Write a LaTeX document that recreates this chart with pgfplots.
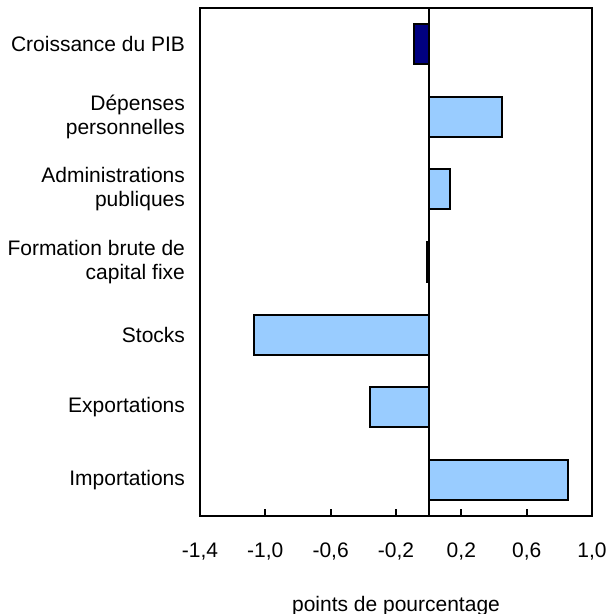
\documentclass[border=0pt]{standalone}
\usepackage{pgfplots}
\pgfplotsset{compat=1.18}
\usepackage{fontspec}
\setmainfont{Liberation Sans}
\definecolor{navybar}{RGB}{0,0,128}
\definecolor{lightbar}{RGB}{153,204,255}
\begin{document}
\begin{tikzpicture}
\begin{axis}[
  scale only axis,
  width=196pt, height=254pt,
  xmin=-1.4, xmax=1.0,
  ymin=-0.5, ymax=6.5,
  y dir=reverse,
  xbar, bar width=20pt, bar shift=0pt,
  axis line style={line width=1pt},
  xtick={-1.4,-1.0,-0.6,-0.2,0.2,0.6,1.0},
  xtick pos=bottom, tick align=inside,
  major tick length=3.5pt,
  xtick style={line width=1pt, black},
  /pgf/number format/assume math mode=true,
  /pgf/number format/.cd, use comma, fixed, fixed zerofill, precision=1, /pgfplots/.cd,
  xticklabel style={font=\fontsize{10.5pt}{12pt}\selectfont, yshift=-10pt},
  ytick={0,1,2,3,4,5,6},
  yticklabels={Croissance du PIB, Dépenses\\personnelles, Administrations\\publiques, Formation brute de\\capital fixe, Stocks, Exportations, Importations},
  yticklabel style={font=\fontsize{10.5pt}{12pt}\selectfont, align=right, xshift=-4pt},
  ytick style={draw=none},
  xlabel={points de pourcentage},
  xlabel style={font=\fontsize{10.5pt}{12pt}\selectfont, yshift=-11pt},
]
\addplot[draw=black, line width=1pt, fill=navybar] coordinates {(-0.09,0)};
\addplot[draw=black, line width=1pt, fill=lightbar] coordinates {(0.45,1) (0.13,2) (-0.01,3) (-1.07,4) (-0.36,5) (0.85,6)};
\draw[line width=0.9pt] (axis cs:0,-0.5) -- (axis cs:0,6.5);
\end{axis}
\pgfresetboundingbox
\path (current axis.south west) ++(-100pt,-49pt) coordinate (bl);
\path (current axis.north east) ++(8pt,4pt) coordinate (tr);
\path[use as bounding box] (bl) rectangle (tr);
\end{tikzpicture}
\end{document}
